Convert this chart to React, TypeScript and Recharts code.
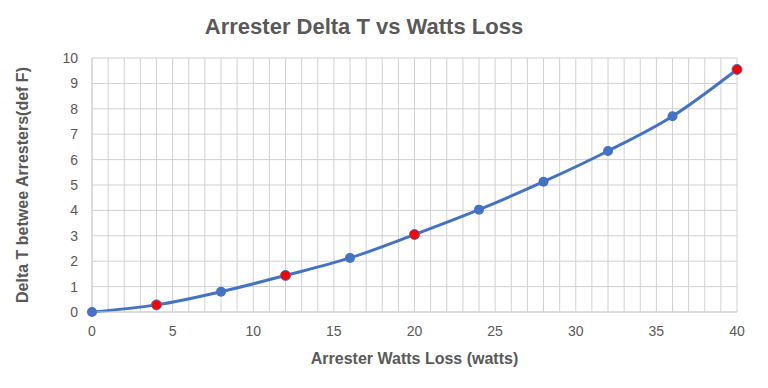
import { CartesianGrid, Label, Line, LineChart, XAxis, YAxis } from "recharts";

const watts = [0, 4, 8, 12, 16, 20, 24, 28, 32, 36, 40];
const deltaT = [0, 0.28, 0.8, 1.44, 2.13, 3.05, 4.03, 5.13, 6.34, 7.71, 9.55];
// points drawn with a red marker
const redWatts = [4, 12, 20, 40];

const xTicks = Array.from({ length: 41 }, (_, i) => i);
const yTicks = [0, 1, 2, 3, 4, 5, 6, 7, 8, 9, 10];

const data = watts.map((w, i) => ({ watts: w, deltaT: deltaT[i] }));

const BLUE = "#4472C4";
const RED = "#FF0000";
const TEXT = "#595959";
const FONT = "'Liberation Sans', Arial, sans-serif";

const Dot = (props: any) => {
  const { cx, cy, payload } = props;
  const red = redWatts.includes(payload.watts);
  return <circle cx={cx} cy={cy} r={5} fill={red ? RED : BLUE} stroke={red ? BLUE : "none"} strokeWidth={1} />;
};

export default function App() {
  return (
    <div style={{ position: "absolute", left: 0, top: 0, width: 768, height: 388, background: "#fff", fontFamily: FONT }}>
      <div
        style={{
          position: "absolute",
          top: 14,
          left: 0,
          width: 728,
          textAlign: "center",
          fontSize: 22,
          fontWeight: 700,
          color: TEXT,
        }}
      >
        Arrester Delta T vs Watts Loss
      </div>
      <LineChart width={768} height={388} data={data} margin={{ top: 58, right: 31, bottom: 46, left: 40 }}>
        <CartesianGrid stroke="#d0d0d0" strokeWidth={1} />
        <XAxis
          dataKey="watts"
          type="number"
          domain={[0, 40]}
          ticks={xTicks}
          interval={0}
          tickFormatter={(v) => (v % 5 === 0 ? String(v) : "")}
          tickLine={false}
          tickSize={0}
          tickMargin={14}
          axisLine={{ stroke: "#d0d0d0" }}
          height={30}
          tick={{ fontSize: 14, fill: TEXT, fontFamily: FONT }}
        >
          <Label
            value="Arrester Watts Loss (watts)"
            position="bottom"
            offset={11}
            style={{ fontSize: 16, fontWeight: 700, fill: TEXT, fontFamily: FONT }}
          />
        </XAxis>
        <YAxis
          type="number"
          domain={[0, 10]}
          ticks={yTicks}
          interval={0}
          tickLine={false}
          tickSize={0}
          tickMargin={14}
          axisLine={{ stroke: "#d0d0d0" }}
          width={52}
          tick={{ fontSize: 14, fill: TEXT, fontFamily: FONT }}
        >
          <Label
            value="Delta T betwee Arresters(def F)"
            angle={-90}
            position="left"
            offset={18}
            style={{ textAnchor: "middle", fontSize: 16, fontWeight: 700, fill: TEXT, fontFamily: FONT }}
          />
        </YAxis>
        <Line
          type="monotone"
          dataKey="deltaT"
          stroke={BLUE}
          strokeWidth={3}
          dot={<Dot />}
          activeDot={false}
          isAnimationActive={false}
        />
      </LineChart>
    </div>
  );
}
